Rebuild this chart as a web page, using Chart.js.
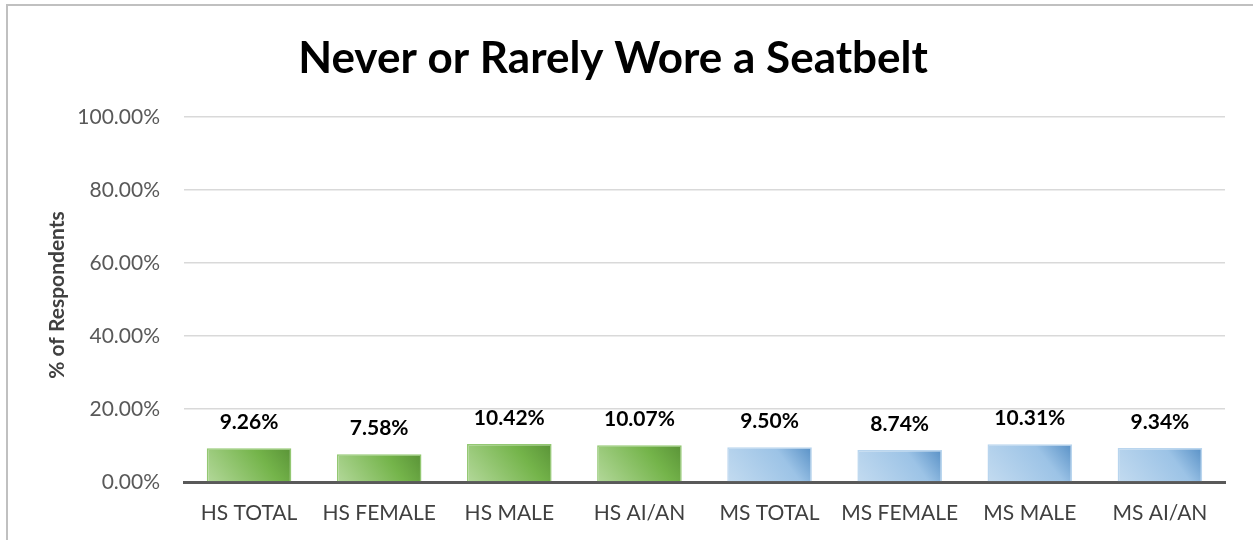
<!DOCTYPE html>
<html>
<head>
<meta charset="utf-8">
<script src="https://cdn.jsdelivr.net/npm/chart.js@4"></script>
<style>
  html, body { margin:0; padding:0; background:#fff; overflow:hidden; }
  #frame { position:absolute; left:6px; top:4px; width:1300px; height:600px;
           border-left:2px solid #c0c0c0; border-top:2px solid #c0c0c0; }
  #wrap { position:absolute; left:0; top:0; width:1253px; height:540px; }
</style>
</head>
<body>
<div id="frame"></div>
<div id="wrap"><canvas id="c" width="1253" height="540"></canvas></div>
<script>
const chartTitle = "Never or Rarely Wore a Seatbelt";
const yAxisTitle = "% of Respondents";
const categories = ["HS TOTAL", "HS FEMALE", "HS MALE", "HS AI/AN", "MS TOTAL", "MS FEMALE", "MS MALE", "MS AI/AN"];
const values = [9.26, 7.58, 10.42, 10.07, 9.50, 8.74, 10.31, 9.34];
const groups = ["HS", "HS", "HS", "HS", "MS", "MS", "MS", "MS"];
const yTicks = [0, 20, 40, 60, 80, 100];

const FONT = "Lato, 'Open Sans', sans-serif";

const palettes = {
  HS: { stops: ["#b3d89a", "#74b44a", "#4a7f2c"], border: "#93c872" },
  MS: { stops: ["#c3dbf0", "#9cc3e6", "#2f72b3"], border: "#b9d5ee" }
};

function barGradient(ctx) {
  const chart = ctx.chart;
  const xs = chart.scales.x, ys = chart.scales.y;
  const pal = palettes[groups[ctx.dataIndex]];
  if (!xs || !ys || !chart.chartArea) return pal.stops[1];
  const cx = xs.getPixelForValue(ctx.dataIndex);
  const half = (xs.width / categories.length) * 0.65 / 2;
  const top = ys.getPixelForValue(values[ctx.dataIndex]);
  const base = ys.getPixelForValue(0);
  const g = chart.ctx.createLinearGradient(cx - half, base, cx + half, top - 30);
  g.addColorStop(0, pal.stops[0]);
  g.addColorStop(0.55, pal.stops[1]);
  g.addColorStop(1, pal.stops[2]);
  return g;
}

const decor = {
  id: 'decor',
  afterDraw(chart) {
    const c = chart.ctx;
    c.save();
    c.fillStyle = '#000';
    c.font = "bold 44px " + FONT;
    c.textAlign = 'center';
    c.textBaseline = 'alphabetic';
    c.fillText(chartTitle, 613, 73);
    c.translate(57, 295);
    c.rotate(-Math.PI / 2);
    c.fillStyle = '#404040';
    c.font = "bold 21px " + FONT;
    c.textBaseline = 'middle';
    c.fillText(yAxisTitle, 0, 0);
    c.restore();
  },
  afterDatasetsDraw(chart) {
    const c = chart.ctx;
    const meta = chart.getDatasetMeta(0);
    c.save();
    c.fillStyle = '#000';
    c.font = "bold 21px " + FONT;
    c.textAlign = 'center';
    c.textBaseline = 'middle';
    meta.data.forEach((el, i) => {
      c.fillText(values[i].toFixed(2) + '%', el.x, el.y - 26);
    });
    c.restore();
  }
};

new Chart(document.getElementById('c'), {
  type: 'bar',
  data: {
    labels: categories,
    datasets: [{
      data: values,
      backgroundColor: barGradient,
      borderColor: (ctx) => palettes[groups[ctx.dataIndex]].border,
      borderWidth: 1.5,
      borderSkipped: 'bottom',
      categoryPercentage: 1,
      barPercentage: 0.65
    }]
  },
  options: {
    responsive: false,
    animation: false,
    devicePixelRatio: 1,
    layout: { padding: { top: 117, right: 28, bottom: 0, left: 0 } },
    plugins: { legend: { display: false }, tooltip: { enabled: false }, title: { display: false } },
    scales: {
      x: {
        grid: { display: false, drawTicks: false },
        border: { display: true, color: '#595959', width: 3 },
        ticks: { color: '#404040', font: { family: FONT, size: 21 }, padding: 19, maxRotation: 0, autoSkip: false },
        afterFit(s) { s.height = 58; }
      },
      y: {
        min: 0, max: 100,
        afterBuildTicks(s) { s.ticks = yTicks.map(v => ({ value: v })); },
        grid: { color: '#d9d9d9', lineWidth: 1.5, drawTicks: false },
        border: { display: false },
        ticks: { color: '#595959', font: { family: FONT, size: 21 }, padding: 24,
                 callback: (v) => Number(v).toFixed(2) + '%' },
        afterFit(s) { s.width = 184; }
      }
    }
  },
  plugins: [decor]
});
</script>
</body>
</html>
